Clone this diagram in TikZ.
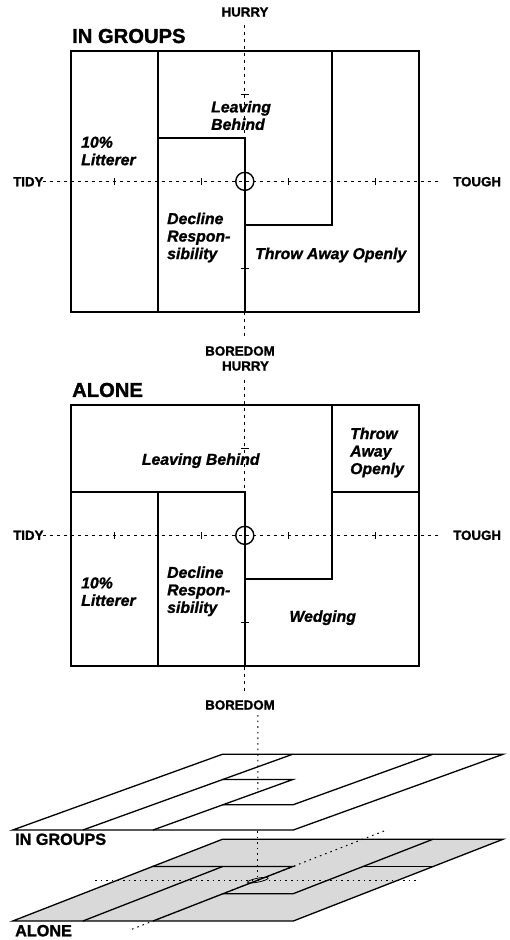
\documentclass[tikz,border=0pt]{standalone}
\usepackage{fontspec}
\setmainfont{Liberation Sans}
\newfontfamily\heavyfont[FakeBold=1.4]{Liberation Sans Bold}
\newfontfamily\heavyitfont[FakeBold=1.2]{Liberation Sans Bold Italic}
\newcommand\groupslayout[1]{%
  \draw[#1] (0,0) -- (4,0) -- (4,3) -- (0,3) -- cycle;
  \draw[#1] (1,0) -- (1,3);
  \draw[#1] (1,2) -- (2,2) -- (2,0);
  \draw[#1] (3,3) -- (3,1) -- (2,1);
}
\newcommand\alonelayout[1]{%
  \draw[#1] (0,0) -- (4,0) -- (4,3) -- (0,3) -- cycle;
  \draw[#1] (0,2) -- (2,2) -- (2,0);
  \draw[#1] (1,0) -- (1,2);
  \draw[#1] (3,3) -- (3,1) -- (2,1);
  \draw[#1] (3,2) -- (4,2);
}
\begin{document}
\begin{tikzpicture}[x=1pt,y=-1pt,
  panel/.style={line width=1.8pt, line join=miter},
  flat/.style={line width=1.3pt, line join=miter},
  axisline/.style={line width=1pt, dash pattern=on 3pt off 4pt},
  dots3d/.style={line width=1pt, dash pattern=on 1.6pt off 4pt},
  tickmark/.style={line width=1pt},
  axlabel/.style={font=\fontsize{13.3}{15}\selectfont\heavyfont, inner sep=0pt},
  title/.style={font=\fontsize{20.2}{22}\selectfont\heavyfont, inner sep=0pt, anchor=west},
  smalltitle/.style={font=\fontsize{16.2}{18}\selectfont\heavyfont, inner sep=0pt, anchor=west},
  region/.style={font=\fontsize{15.8}{17.5}\selectfont\heavyitfont, inner sep=0pt, anchor=west, align=left},
]
\useasboundingbox (0,0) rectangle (510,940);

% ---------- IN GROUPS panel ----------
\begin{scope}[shift={(71,311.7)}, x={(86.9pt,0pt)}, y={(0pt,86.9pt)}]
  \draw[axisline] (-0.32,1.5) -- (4.25,1.5);
  \draw[axisline] (2,3.3) -- (2,-0.3);
  \foreach \u in {0.5,1.5,2.5,3.5}
    \draw[tickmark] (\u,1.5) +(0,-3.5pt) -- +(0,3.5pt);
  \foreach \v in {0.5,2.5}
    \draw[tickmark] (2,\v) +(-4pt,0) -- +(4pt,0);
  \groupslayout{panel}
  \draw[line width=1.4pt] (2,1.5) circle (0.104);
\end{scope}
\node[axlabel] (hurryA) at (245,12) {HURRY};
\node[title] (titleA) at (72,36) {IN GROUPS};
\node[axlabel, anchor=west] (tidyA) at (13,181.7) {TIDY};
\node[axlabel, anchor=west] (toughA) at (453,181.7) {TOUGH};
\node[region] (leaveA) at (211,115.5) {Leaving\\Behind};
\node[region] (litterA) at (81,151) {10\%\\Litterer};
\node[region] (declineA) at (167,237.5) {Decline\\Respon-\\sibility};
\node[region] (throwA) at (255,255) {Throw Away Openly};
\node[axlabel] (boredomA) at (240,351) {BOREDOM};

% ---------- ALONE panel ----------
\begin{scope}[shift={(71,665.7)}, x={(86.9pt,0pt)}, y={(0pt,86.9pt)}]
  \draw[axisline] (-0.32,1.5) -- (4.25,1.5);
  \draw[axisline] (2,3.29) -- (2,-0.33);
  \foreach \u in {0.5,1.5,2.5,3.5}
    \draw[tickmark] (\u,1.5) +(0,-3.5pt) -- +(0,3.5pt);
  \foreach \v in {0.5,2.5}
    \draw[tickmark] (2,\v) +(-4pt,0) -- +(4pt,0);
  \alonelayout{panel}
  \draw[line width=1.4pt] (2,1.5) circle (0.104);
\end{scope}
\node[axlabel] (hurryB) at (245.5,366) {HURRY};
\node[title] (titleB) at (72,390) {ALONE};
\node[axlabel, anchor=west] (tidyB) at (13,535.3) {TIDY};
\node[axlabel, anchor=west] (toughB) at (453,535.3) {TOUGH};
\node[region] (leaveB) at (141.7,460.7) {Leaving Behind};
\node[region] (throwB) at (350,452.5) {Throw\\Away\\Openly};
\node[region] (litterB) at (81,591.7) {10\%\\Litterer};
\node[region] (declineB) at (167,591.3) {Decline\\Respon-\\sibility};
\node[region] (wedgeB) at (289.3,617.7) {Wedging};
\node[axlabel] (boredomB) at (240,705) {BOREDOM};

% ---------- 3D view ----------
\begin{scope}[shift={(12.7,921)}, x={(70.15pt,0pt)}, y={(69.87pt,27.23pt)}]
  \fill[gray!30] (0,0) -- (4,0) -- (4,3) -- (0,3) -- cycle;
  \draw[dots3d] (-0.32,1.5) -- (4.25,1.5);
  \draw[dots3d] (2,-0.3) -- (2,3.32);
  \alonelayout{flat}
  \draw[line width=1.7pt] (0,2) -- (2,2);
  \draw[line width=1.7pt] (3,2) -- (4,2);
  \draw[line width=0.8pt] (2,1.5) circle (0.104);
  \coordinate (cenB) at (2,1.5);
\end{scope}
\begin{scope}[shift={(12.7,830)}, x={(70.15pt,0pt)}, y={(69.87pt,25.23pt)}]
  \fill[white] (0,0) -- (4,0) -- (4,3) -- (0,3) -- cycle;
  \groupslayout{flat}
  \coordinate (cenA) at (2,1.5);
\end{scope}
\coordinate (vtop) at (257.8,715);
\coordinate (vmid) at (257.8,831);
\coordinate (vlow) at (257.8,877);
\draw[dots3d] (vtop) -- (cenA);
\draw[dots3d] (vmid) -- (vlow);
\node[smalltitle] (titleC) at (15,839.3) {IN GROUPS};
\node[smalltitle] (titleD) at (15,930.7) {ALONE};
\end{tikzpicture}
\end{document}
